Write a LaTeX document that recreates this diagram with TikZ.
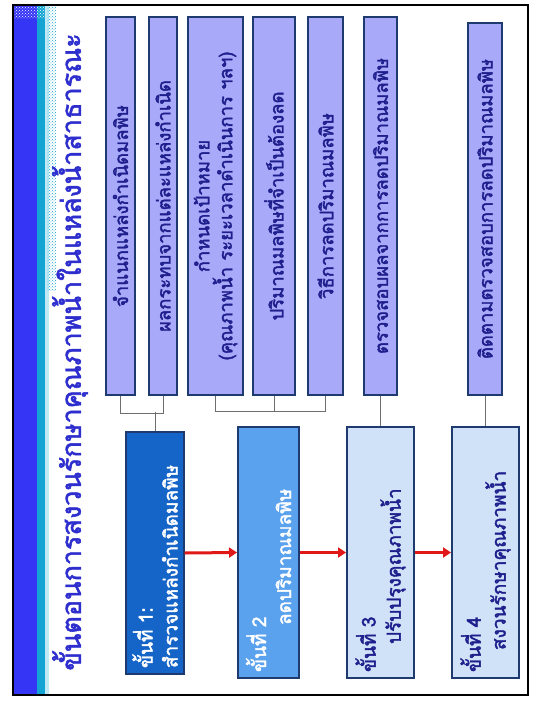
\documentclass[tikz,border=0pt]{standalone}
\usepackage{fontspec}
\usepackage{graphicx}
\setmainfont{Loma}[Script=Thai, AutoFakeBold=2]
\usetikzlibrary{arrows.meta,patterns}
\definecolor{navy}{HTML}{1F3A6E}
\definecolor{lav}{HTML}{A9A9FA}
\definecolor{txtblue}{HTML}{1E1E8C}
\definecolor{titleblue}{HTML}{2E2ECF}
\definecolor{sA}{HTML}{1565C8}
\definecolor{sB}{HTML}{5AA2EE}
\definecolor{sC}{HTML}{CFE2F8}
\definecolor{bandblue}{HTML}{3535F5}
\definecolor{bandcyan}{HTML}{14A4D4}
\definecolor{palecyan}{HTML}{BFEAF5}
\definecolor{arrowred}{HTML}{E01818}
\definecolor{linegray}{HTML}{6E6E6E}
\begin{document}
\begin{tikzpicture}[x=1pt,y=1pt,
  item/.style={draw=navy, line width=1.5pt, fill=lav, rotate=90, minimum width=378pt, inner sep=2pt, font=\bfseries\fontsize{18.5}{23}\selectfont, text=txtblue, align=center},
  stepbox/.style={draw=navy, line width=2pt, rotate=90, inner sep=6pt, font=\bfseries\fontsize{19}{25}\selectfont, align=left, minimum width=251pt, text width=239pt},
  link/.style={draw=linegray, line width=0.8pt},
  flow/.style={draw=arrowred, line width=3pt, -{Triangle[length=8pt,width=10pt]}}]
\useasboundingbox (0,0) rectangle (541,-702);
\fill[white] (0,0) rectangle (541,-702);
% left band
\fill[bandblue] (14,-6) rectangle (37,-694);
\fill[bandcyan] (37,-6) rectangle (45,-694);
\fill[palecyan] (45,-6) rectangle (49,-694);
\fill[pattern=crosshatch dots, pattern color=bandcyan] (47,-6) rectangle (56,-290);
\fill[pattern=crosshatch dots, pattern color=white] (14,-6) rectangle (45,-18);
\draw[black, line width=2.5pt] (13,-5) rectangle (528,-695);
% title
\node[rotate=90, font=\bfseries\fontsize{27}{30}\selectfont, text=titleblue] (title) at (70,-352) {ขั้นตอนการสงวนรักษาคุณภาพน้ำในแหล่งน้ำสาธารณะ};
% items
\node[item, minimum height=29pt] (i1) at (120.5,-206) {จำแนกแหล่งกำเนิดมลพิษ};
\node[item, minimum height=28pt] (i2) at (163,-206) {ผลกระทบจากแต่ละแหล่งกำเนิด};
\node[item, minimum height=55pt] (i3) at (215.5,-206) {กำหนดเป้าหมาย\\(คุณภาพน้ำ ระยะเวลาดำเนินการ ฯลฯ)};
\node[item, minimum height=42pt] (i4) at (274,-206) {ปริมาณมลพิษที่จำเป็นต้องลด};
\node[item, minimum height=35pt] (i5) at (325.5,-206) {วิธีการลดปริมาณมลพิษ};
\node[item, minimum height=33pt] (i6) at (380.5,-206) {ตรวจสอบผลจากการลดปริมาณมลพิษ};
\node[item, minimum height=34pt, minimum width=372pt] (i7) at (485,-209) {ติดตามตรวจสอบการลดปริมาณมลพิษ};
% steps
\node[stepbox, fill=sA, text=white, minimum height=56pt, minimum width=242pt, text width=230pt] (s1) at (155,-553) {ขั้นที่ 1:\\สำรวจแหล่งกำเนิดมลพิษ};
\node[stepbox, fill=sB, text=white, minimum height=61pt] (s2) at (268.5,-552.5) {ขั้นที่ 2\\\hspace*{47pt}ลดปริมาณมลพิษ};
\node[stepbox, fill=sC, text=txtblue, minimum height=67pt] (s3) at (380.5,-552.5) {ขั้นที่ 3\\\hspace*{28pt}ปรับปรุงคุณภาพน้ำ};
\node[stepbox, fill=sC, text=txtblue, minimum height=67pt] (s4) at (485.5,-552.5) {ขั้นที่ 4\\\hspace*{22pt}สงวนรักษาคุณภาพน้ำ};
% connectors
\draw[link] (i1.west) -- ++(0,-18) -| (i2.west);
\draw[link] (s1.east) -- ++(0,19);
\draw[link] (i3.west) -- ++(0,-16) -| (i5.west);
\draw[link] (i4.west) -- ++(0,-16);
\draw[link] (i6.west) -- (s3.east);
\draw[link] (i7.west) -- (i7.west |- s4.east);
% arrows
\draw[flow] (s1.south) -- (s2.north);
\draw[flow] (s2.south) -- (s3.north);
\draw[flow] (s3.south) -- (s4.north);
\end{tikzpicture}
\end{document}
